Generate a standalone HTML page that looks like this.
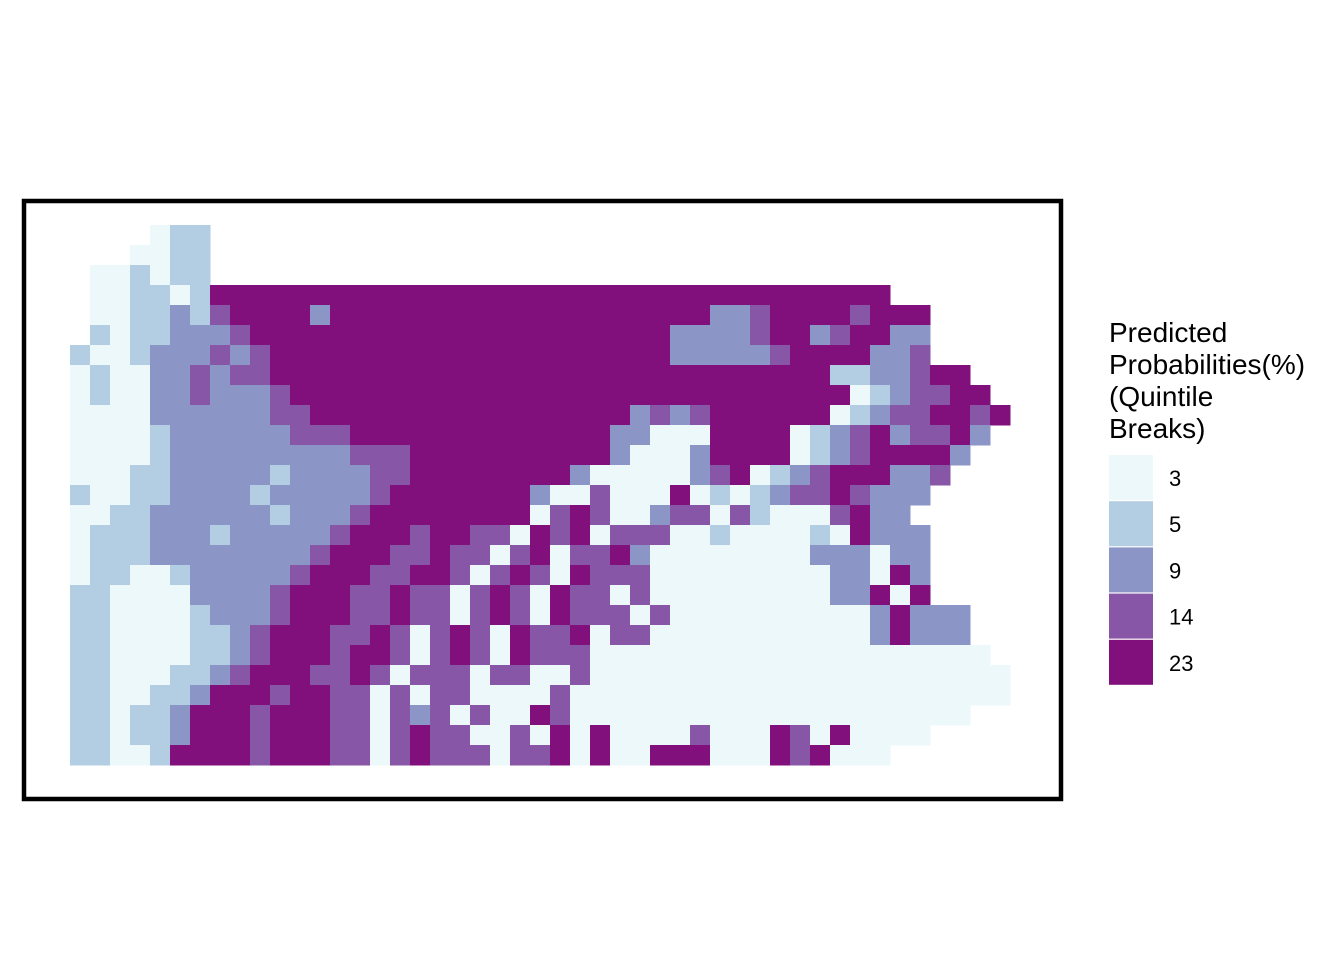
<!DOCTYPE html>
<html><head><meta charset="utf-8"><style>
body{margin:0;background:#fff;}
svg{display:block;font-family:"Liberation Sans",Arial,sans-serif;}
</style></head><body>
<svg id="chart" width="1344" height="960">
<rect x="0" y="0" width="1344" height="960" fill="#fff"/>
<g id="cells"></g>
<rect x="24" y="201" width="1037" height="598" fill="none" stroke="#000" stroke-width="4.5"/>
<g>
<text x="1109" y="342" font-size="28"><tspan x="1109" y="342">Predicted</tspan><tspan x="1109" y="374">Probabilities(%)</tspan><tspan x="1109" y="406">(Quintile</tspan><tspan x="1109" y="438">Breaks)</tspan></text>
<g id="legend-keys"></g>
</g>
</svg>
<script>
const palette = ["#EDF8FB","#B3CDE3","#8C96C6","#8856A7","#810F7C"];
const legendLabels = ["3","5","9","14","23"];
// raster class grid (1..5), '.' = no data; rows of 20px cells
const rows = [
"....122",
"...1122",
".112122",
".1122125555555555555555555555555555555555",
".112232455553555555555555555555533455554555",
".212233345555555555555555555553333455345533",
"2112333434555555555555555555553333345555334",
"121133434455555555555555555555555555552233455",
"1211334333455555555555555555555555555551234455",
"11113333334455555555555555553434555555123445545",
"1111233333344455555555555553311155551234534453",
"111123333333334445555555555311135555123455553",
"11122333332333344555555553111113451234555334",
"2112233332333334555555531141115121234454333",
"112233333323334555555551454113441421114533",
"1222333233333455545544154514441121111215333",
"1222333333334555445441451445311111111333133",
"1221123333345554455414541544411111111133153",
"2211113333455544544145415441411111111133515",
"221111233345554454414541544414111111111135333",
"221111223455544541454154451441111111111135333",
"2211112234555455414541544411111111111111111111",
"22111223455544541444144114111111111111111111111",
"22112235554554414144111141111111111111111111111",
"221223555455544143414115411111111111111111111",
"2212235554555441454411415151111411154151111",
"22112555545554414544414451511555111545111"
];
const x0 = 70, y0 = 225, cs = 20;
const xScale = c => x0 + c * cs;
const yScale = r => y0 + r * cs;
const g = document.getElementById('cells');
const NS = "http://www.w3.org/2000/svg";
rows.forEach((row, r) => {
  for (let c = 0; c < row.length; c++) {
    const ch = row[c];
    if (ch === '.') continue;
    const rect = document.createElementNS(NS, 'rect');
    rect.setAttribute('x', xScale(c));
    rect.setAttribute('y', yScale(r));
    rect.setAttribute('width', cs + 0.5);
    rect.setAttribute('height', cs + 0.5);
    rect.setAttribute('fill', palette[+ch - 1]);
    
    
    g.appendChild(rect);
  }
});
const lg = document.getElementById('legend-keys');
legendLabels.forEach((lab, i) => {
  const k = document.createElementNS(NS, 'rect');
  k.setAttribute('x', 1109); k.setAttribute('y', 455 + i * 46.2);
  k.setAttribute('width', 44); k.setAttribute('height', 45);
  k.setAttribute('fill', palette[i]);
  
  
  lg.appendChild(k);
  const t = document.createElementNS(NS, 'text');
  t.setAttribute('x', 1169); t.setAttribute('y', 486 + i * 46.2);
  t.setAttribute('font-size', '22');
  t.textContent = lab;
  
  
  lg.appendChild(t);
});
</script>
</body></html>
